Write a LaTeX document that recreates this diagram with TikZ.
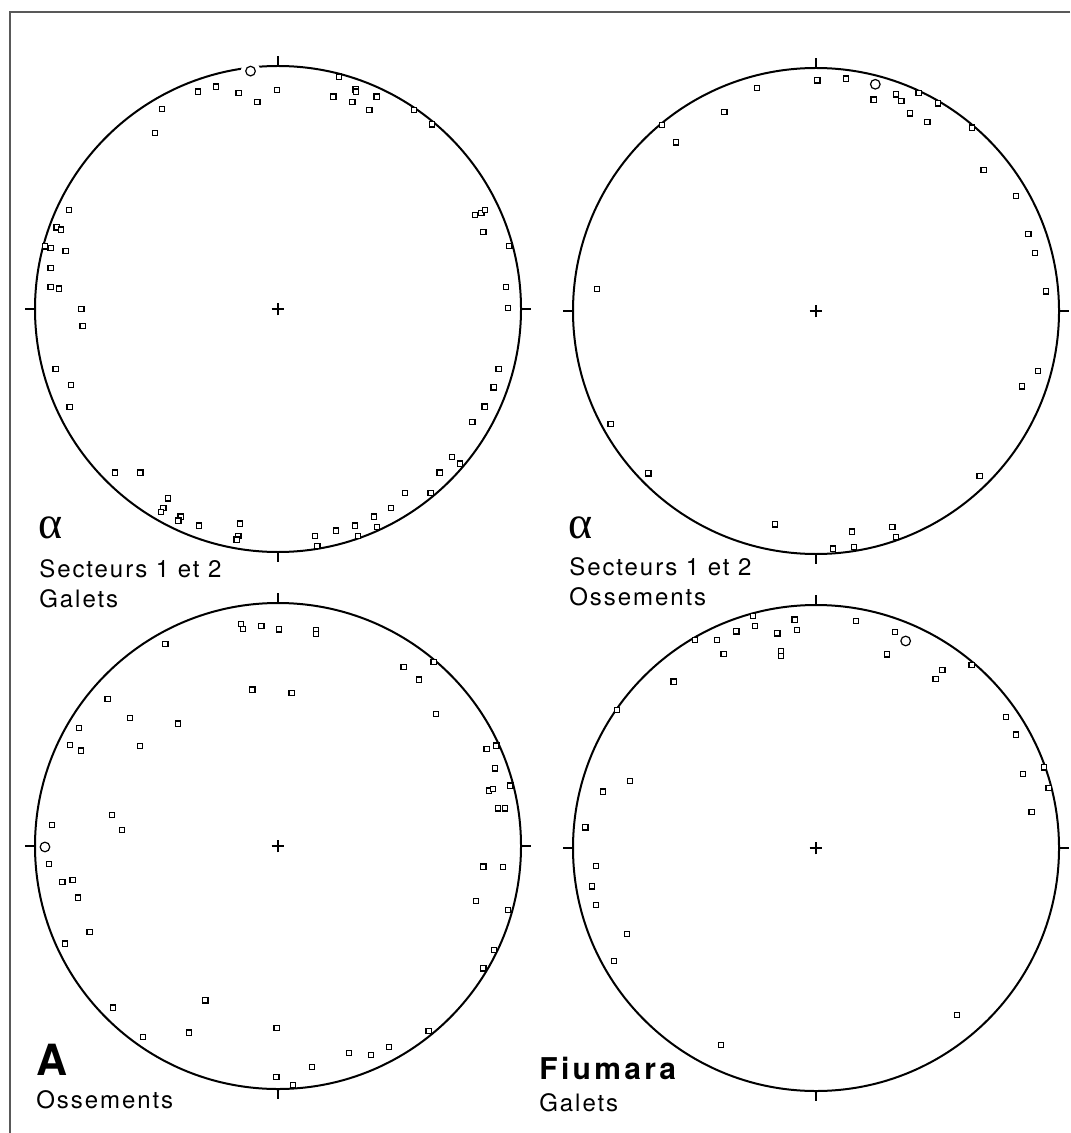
\documentclass[tikz,border=0pt]{standalone}
\usepackage{fontspec}
\setmainfont{TeX Gyre Heros}
\newfontfamily\labfont{TeX Gyre Heros}[LetterSpace=8]
\newfontfamily\titlefont{TeX Gyre Heros}[LetterSpace=11]
\newfontfamily\greekfont{Liberation Serif}

\begin{document}
\begin{tikzpicture}[x=0.5pt, y=-0.5pt,
  net/.style={line width=1pt},
  sq/.style={draw, fill=white, rectangle, minimum size=2.6pt, inner sep=0pt, line width=0.6pt},
  oc/.style={draw, fill=white, circle, minimum size=4.8pt, inner sep=0pt, line width=0.6pt},
  lab/.style={anchor=base west, inner sep=0pt, font=\labfont\fontsize{12}{14}\selectfont},
  greek/.style={anchor=base west, inner sep=0pt, font=\greekfont\fontsize{23}{26}\selectfont}]
\useasboundingbox (0,0) rectangle (1070,1133);
\draw[black!65, line width=0.7pt] (1070,12) -- (10,12) -- (10,1133);

% the four nets
\foreach \cx/\cy in {278/309, 816/311, 278/846, 816/848} {
  \begin{scope}[shift={(\cx,\cy)}, x=121.5pt, y=121.5pt]
    \draw[net] (0,0) circle (1);
    \draw[net] (0,1) -- (0,1.042) (0,-1) -- (0,-1.042) (-1,0) -- (-1.042,0) (1,0) -- (1.042,0);
    \draw[line width=0.65pt] (-0.026,0) -- (0.026,0) (0,-0.026) -- (0,0.026);
  \end{scope}
}

% secteurs 1 et 2, galets
\begin{scope}[shift={(278,309)}, x=121.5pt, y=121.5pt]
  \foreach \u/\v [count=\i] in {0.251/0.956, -0.330/0.895, -0.254/0.915, -0.162/0.888, -0.085/0.853,
    -0.004/0.901, 0.228/0.874, 0.319/0.904, 0.322/0.895, 0.306/0.853, 0.406/0.874, 0.376/0.818,
    0.560/0.818, 0.634/0.760, -0.478/0.823, -0.506/0.725, -0.860/0.407, -0.911/0.336, -0.894/0.327,
    -0.959/0.258, -0.936/0.252, -0.874/0.238, -0.936/0.168, -0.936/0.090, -0.901/0.084, -0.809/0.001,
    0.810/0.386, 0.837/0.395, 0.851/0.408, 0.845/0.316, 0.952/0.260, 0.938/0.090, 0.946/0.004,
    -0.804/-0.069, -0.915/-0.248, -0.852/-0.312, -0.858/-0.403, -0.671/-0.673, -0.566/-0.673,
    -0.452/-0.779, -0.472/-0.818, -0.481/-0.836, -0.401/-0.854, -0.410/-0.871, -0.325/-0.891,
    -0.156/-0.883, -0.163/-0.933, -0.170/-0.949, 0.153/-0.934, 0.162/-0.975, 0.238/-0.912,
    0.316/-0.891, 0.330/-0.933, 0.394/-0.854, 0.408/-0.897, 0.464/-0.820, 0.523/-0.757,
    0.628/-0.757, 0.665/-0.673, 0.715/-0.608, 0.749/-0.636, 0.800/-0.465, 0.850/-0.402,
    0.887/-0.323, 0.908/-0.246}
    \node[sq] (g\i) at (\u,\v) {};
  \fill[white] (-0.113,0.979) circle (0.04);
  \node[oc] (g0) at (-0.113,0.979) {};
\end{scope}

% secteurs 1 et 2, ossements
\begin{scope}[shift={(816,311)}, x=121.5pt, y=121.5pt]
  \foreach \u/\v [count=\i] in {0.006/0.949, 0.124/0.956, 0.237/0.870, 0.328/0.891, 0.351/0.865,
    0.422/0.898, 0.501/0.854, 0.387/0.813, 0.458/0.777, 0.641/0.755, 0.690/0.579, 0.824/0.473,
    0.874/0.316, 0.902/0.238, 0.946/0.081, -0.242/0.917, -0.377/0.818, -0.633/0.765, -0.577/0.694,
    -0.902/0.090, 0.913/-0.247, 0.848/-0.310, -0.845/-0.466, -0.690/-0.668, 0.673/-0.679,
    -0.169/-0.878, 0.149/-0.908, 0.314/-0.889, 0.328/-0.930, 0.071/-0.978, 0.156/-0.971}
    \node[sq] (o\i) at (\u,\v) {};
  \node[oc] (o0) at (0.244,0.933) {};
\end{scope}

% A, ossements
\begin{scope}[shift={(278,846)}, x=121.5pt, y=121.5pt]
  \foreach \u/\v [count=\i] in {-0.152/0.913, -0.144/0.893, -0.068/0.905, 0.004/0.891, 0.157/0.890,
    0.157/0.872, -0.463/0.831, 0.517/0.736, 0.640/0.757, 0.581/0.685, -0.105/0.644, 0.056/0.629,
    0.651/0.543, -0.701/0.606, -0.610/0.527, -0.412/0.504, -0.818/0.485, -0.855/0.415, -0.811/0.393,
    -0.568/0.412, 0.858/0.398, 0.899/0.413, 0.892/0.319, 0.956/0.249, 0.868/0.228, 0.885/0.234,
    0.905/0.155, 0.933/0.155, -0.930/0.087, -0.684/0.128, -0.642/0.065,
    -0.943/-0.074, -0.887/-0.147, -0.845/-0.141, -0.823/-0.212, -0.775/-0.354, -0.876/-0.402,
    0.845/-0.085, 0.925/-0.087, 0.815/-0.227, 0.947/-0.264, 0.889/-0.427, 0.845/-0.504,
    -0.678/-0.665, -0.299/-0.635, -0.556/-0.787, -0.366/-0.768, -0.006/-0.749, 0.620/-0.762,
    0.456/-0.827, 0.292/-0.853, 0.383/-0.861, 0.141/-0.909, -0.007/-0.951, 0.061/-0.985}
    \node[sq] (a\i) at (\u,\v) {};
  \node[oc] (a0) at (-0.959,-0.004) {};
\end{scope}

% Fiumara, galets
\begin{scope}[shift={(816,848)}, x=121.5pt, y=121.5pt]
  \foreach \u/\v [count=\i] in {-0.259/0.955, -0.088/0.940, 0.164/0.933, -0.252/0.913, -0.079/0.896,
    -0.328/0.891, -0.159/0.883, -0.498/0.856, -0.408/0.856, -0.380/0.799, -0.145/0.810, -0.145/0.790,
    0.325/0.889, 0.291/0.797, 0.520/0.732, 0.492/0.696, 0.640/0.753, -0.586/0.685, -0.818/0.567,
    0.782/0.538, 0.823/0.467, 0.937/0.332, 0.851/0.304, 0.957/0.246, 0.887/0.147, -0.765/0.275,
    -0.876/0.232, -0.949/0.085, -0.905/-0.073, -0.921/-0.158, -0.905/-0.234, -0.779/-0.355,
    -0.832/-0.466, 0.579/-0.686, -0.392/-0.810}
    \node[sq] (f\i) at (\u,\v) {};
  \node[oc] (f0) at (0.369,0.852) {};
\end{scope}

% labels
\node[greek] (alphaG) at (38,538) {α};
\node[lab] (sectG) at (39,577) {Secteurs 1 et 2};
\node[lab] (typeG) at (39,607) {Galets};
\node[greek] (alphaO) at (568,538) {α};
\node[lab] (sectO) at (569,575) {Secteurs 1 et 2};
\node[lab] (typeO) at (569,605) {Ossements};
\node[anchor=base west, inner sep=0pt, font=\bfseries\fontsize{21.5}{24}\selectfont] (siteA) at (36,1075) {A};
\node[lab] (typeA) at (36,1108) {Ossements};
\node[anchor=base west, inner sep=0pt, font=\titlefont\bfseries\fontsize{15}{17}\selectfont] (siteF) at (539,1079) {Fiumara};
\node[lab] (typeF) at (539,1111) {Galets};
\end{tikzpicture}
\end{document}
